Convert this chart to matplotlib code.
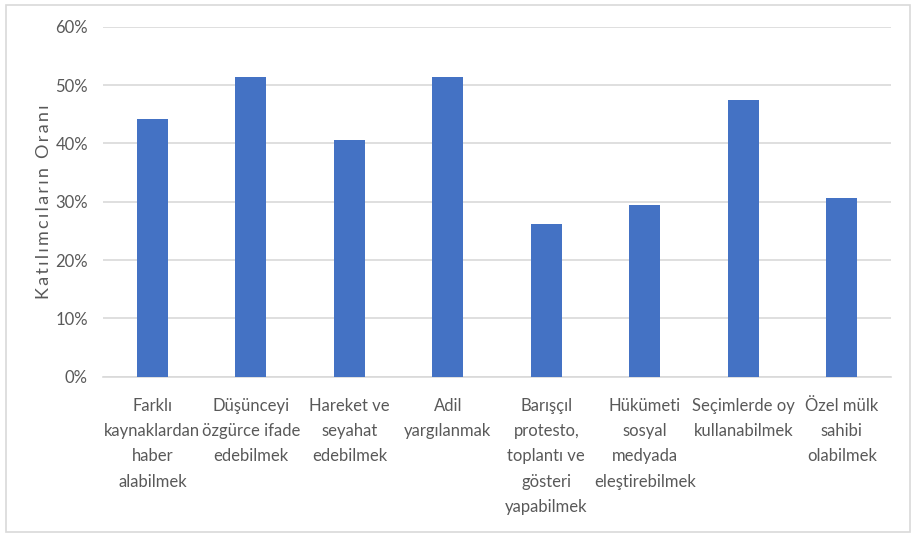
import matplotlib.pyplot as plt
from matplotlib.patches import Rectangle
from matplotlib.ticker import PercentFormatter

# data
categories = [
    "Farklı\nkaynaklardan\nhaber\nalabilmek",
    "Düşünceyi\nözgürce ifade\nedebilmek",
    "Hareket ve\nseyahat\nedebilmek",
    "Adil\nyargılanmak",
    "Barışçıl\nprotesto,\ntoplantı ve\ngösteri\nyapabilmek",
    "Hükümeti\nsosyal\nmedyada\neleştirebilmek",
    "Seçimlerde oy\nkullanabilmek",
    "Özel mülk\nsahibi\nolabilmek",
]
values = [0.442, 0.514, 0.406, 0.514, 0.261, 0.294, 0.474, 0.307]
y_ticks = [0, 0.1, 0.2, 0.3, 0.4, 0.5, 0.6]
y_title = "Katılımcıların Oranı"

plt.rcParams["font.family"] = ["Lato", "DejaVu Sans"]

fig = plt.figure(figsize=(9.13, 5.34), dpi=100)
ax = fig.add_axes([0.113, 0.2946, 0.863, 0.6554])

# outer border
fig.patches.append(
    Rectangle(
        (6 / 913, 2 / 534),
        904 / 913,
        527 / 534,
        transform=fig.transFigure,
        fill=False,
        edgecolor="#d9d9d9",
        linewidth=1.2,
    )
)

x = range(len(categories))
ax.bar(x, values, width=0.315, color="#4472c4", zorder=3)

ax.set_xlim(-0.5, len(categories) - 0.5)
ax.set_ylim(0, 0.6)
ax.set_yticks(y_ticks)
ax.yaxis.set_major_formatter(PercentFormatter(1.0, decimals=0))
ax.set_xticks(list(x))
ax.set_xticklabels(categories, linespacing=1.72)

ax.grid(axis="y", color="#d9d9d9", linewidth=1.2, zorder=0)
for s in ["top", "right", "left"]:
    ax.spines[s].set_visible(False)
ax.spines["bottom"].set_color("#d9d9d9")
ax.spines["bottom"].set_linewidth(1.2)

ax.tick_params(axis="both", length=0, labelsize=12, labelcolor="#595959")
ax.tick_params(axis="x", pad=15)
ax.tick_params(axis="y", pad=11)

# spaced-out axis title
ax.set_ylabel("\u2009".join(y_title), fontsize=13, color="#595959", labelpad=2)

plt.savefig("out.png", dpi=100)
